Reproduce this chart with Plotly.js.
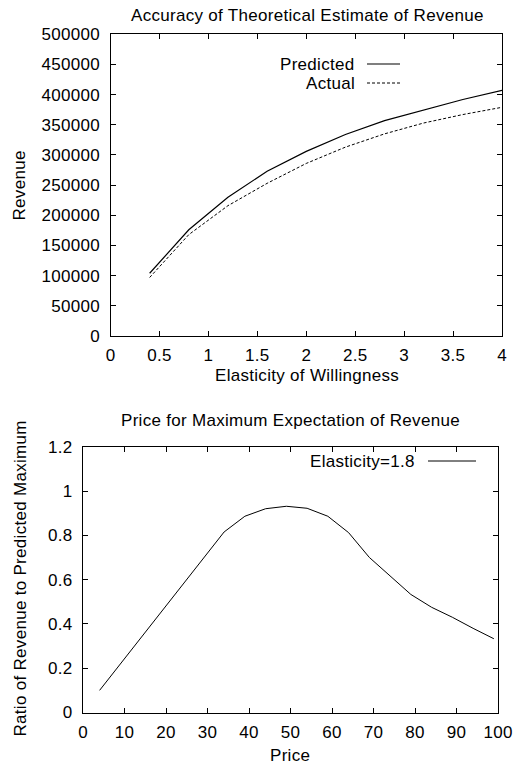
<!DOCTYPE html>
<html>
<head>
<meta charset="utf-8">
<script src="https://cdn.plot.ly/plotly-3.0.1.min.js"></script>
<style>
html,body{margin:0;padding:0;background:#fff;}
#chart{width:515px;height:765px;}
svg text{letter-spacing:0.3px;}
</style>
</head>
<body>
<div id="chart"></div>
<script>
// Top chart data
const elasticity = [0.4, 0.8, 1.2, 1.6, 2.0, 2.4, 2.8, 3.2, 3.6, 4.0];
const predictedRevenue = [104000, 176000, 230000, 273000, 306000, 334000, 357000, 375000, 392000, 407000];
const actualRevenue = [97000, 168000, 216000, 253000, 286000, 313000, 335000, 353000, 367000, 379000];
// Bottom chart data
const price = [4, 9, 14, 19, 24, 29, 34, 39, 44, 49, 54, 59, 64, 69, 74, 79, 84, 89, 94, 99];
const ratio = [0.10, 0.22, 0.34, 0.46, 0.58, 0.70, 0.815, 0.886, 0.92, 0.931, 0.922, 0.886, 0.812, 0.70, 0.615, 0.533, 0.475, 0.43, 0.38, 0.333];
const revTicks = [0, 50000, 100000, 150000, 200000, 250000, 300000, 350000, 400000, 450000, 500000];
const elasTicks = [0, 0.5, 1, 1.5, 2, 2.5, 3, 3.5, 4];
const priceTicks = [0, 10, 20, 30, 40, 50, 60, 70, 80, 90, 100];
const ratioTicks = [0, 0.2, 0.4, 0.6, 0.8, 1, 1.2];

const W = 515, H = 765;
const px = v => v / W;
const py = v => 1 - v / H;
const FONT = {family: '"Liberation Sans", Arial, sans-serif', size: 17, color: '#000'};

const traces = [
  {x: elasticity, y: predictedRevenue, type: 'scatter', mode: 'lines', name: 'Predicted',
   line: {color: '#000', width: 1.2}, xaxis: 'x', yaxis: 'y', showlegend: false},
  {x: elasticity, y: actualRevenue, type: 'scatter', mode: 'lines', name: 'Actual',
   line: {color: '#000', width: 1, dash: '3px,2px'}, xaxis: 'x', yaxis: 'y', showlegend: false},
  {x: price, y: ratio, type: 'scatter', mode: 'lines', name: 'Elasticity=1.8',
   line: {color: '#000', width: 1}, xaxis: 'x2', yaxis: 'y2', showlegend: false}
];

const axBase = {
  showline: true, mirror: 'ticks', linecolor: '#000', linewidth: 1,
  ticks: 'inside', ticklen: 5, tickcolor: '#000', showgrid: false, zeroline: false,
  tickfont: FONT, fixedrange: true
};

function ann(text, x, y, extra) {
  return Object.assign({text: text, xref: 'paper', yref: 'paper', x: px(x), y: py(y), showarrow: false,
    xanchor: 'center', yanchor: 'middle', font: FONT, borderpad: 0}, extra || {});
}

const layout = {
  width: W, height: H,
  margin: {l: 0, r: 0, t: 0, b: 0},
  paper_bgcolor: '#fff', plot_bgcolor: '#fff',
  font: FONT,
  showlegend: false,
  xaxis: Object.assign({}, axBase, {domain: [px(110.5), px(502)], range: [0, 4], tickvals: elasTicks, ticktext: elasTicks.map(String), anchor: 'y', ticklabelstandoff: 4}),
  yaxis: Object.assign({}, axBase, {domain: [py(336), py(34.3)], range: [0, 500000], tickvals: revTicks, ticktext: revTicks.map(String), anchor: 'x', ticklabelstandoff: 6}),
  xaxis2: Object.assign({}, axBase, {domain: [px(83), px(498)], range: [0, 100], tickvals: priceTicks, ticktext: priceTicks.map(String), anchor: 'y2', ticklabelstandoff: 4}),
  yaxis2: Object.assign({}, axBase, {domain: [py(712.5), py(446.7)], range: [0, 1.2], tickvals: ratioTicks, ticktext: ratioTicks.map(String), anchor: 'x2', ticklabelstandoff: 6}),
  annotations: [
    ann('Accuracy of Theoretical Estimate of Revenue', 307, 15),
    ann('Elasticity of Willingness', 307, 375),
    ann('Revenue', 18.5, 185, {textangle: -90}),
    ann('Predicted', 356, 64.3, {xanchor: 'right'}),
    ann('Actual', 356, 83.3, {xanchor: 'right'}),
    ann('Price for Maximum Expectation of Revenue', 290, 420),
    ann('Price', 290, 755),
    ann('Ratio of Revenue to Predicted Maximum', 20, 578.5, {textangle: -90}),
    ann('Elasticity=1.8', 416, 461, {xanchor: 'right'})
  ],
  shapes: [
    {type: 'line', xref: 'paper', yref: 'paper', x0: px(367), x1: px(400), y0: py(64), y1: py(64), line: {color: '#000', width: 1.2}},
    {type: 'line', xref: 'paper', yref: 'paper', x0: px(367), x1: px(400), y0: py(83), y1: py(83), line: {color: '#000', width: 1, dash: '3px,2px'}},
    {type: 'line', xref: 'paper', yref: 'paper', x0: px(428), x1: px(476), y0: py(461), y1: py(461), line: {color: '#000', width: 1}}
  ]
};

Plotly.newPlot('chart', traces, layout, {displayModeBar: false, staticPlot: true});
</script>
</body>
</html>
